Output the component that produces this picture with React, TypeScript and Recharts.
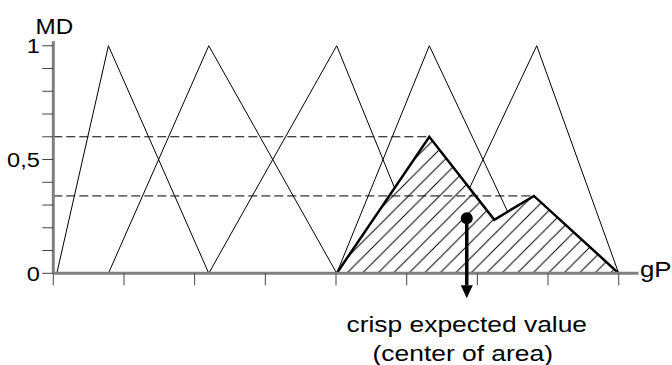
import { ComposedChart, Line, Area, XAxis, YAxis, ReferenceLine } from 'recharts';

// axis ticks
const xTicks = [0, 1, 2, 3, 4, 5, 6, 7, 8];
const yTicks = [0, 0.1, 0.2, 0.3, 0.4, 0.5, 0.6, 0.7, 0.8, 0.9, 1];
const yTickLabels: Record<string, string> = { '0': '0', '0.5': '0,5', '1': '1' };

// membership functions (triangles)
const tri1 = [{ x: 0.05, y: 0 }, { x: 0.78, y: 1 }, { x: 2.2, y: 0 }];
const tri2 = [{ x: 0.78, y: 0 }, { x: 2.2, y: 1 }, { x: 4.01, y: 0 }];
const tri3 = [{ x: 2.2, y: 0 }, { x: 4.01, y: 1 }, { x: 5.32, y: 0 }];
const tri4 = [{ x: 4.01, y: 0 }, { x: 5.32, y: 1 }, { x: 6.84, y: 0 }];
const tri5 = [{ x: 5.32, y: 0 }, { x: 6.84, y: 1 }, { x: 8.0, y: 0 }];
const triangles = [tri1, tri2, tri3, tri4, tri5];

// resulting fuzzy set
const outputSet = [
  { x: 4.01, y: 0 },
  { x: 5.32, y: 0.6 },
  { x: 6.24, y: 0.235 },
  { x: 6.8, y: 0.34 },
  { x: 8.0, y: 0 },
];

// activation levels and where their dashed lines stop
const cutLevels = [0.6, 0.34];
const cutEnds = [5.33, 6.79];

// centre of area
const centroidX = 5.85;
const centroidY = 0.242;
const arrowTipY = -0.11;

const FONT = '"Liberation Sans", Arial, sans-serif';
const AXIS_GREY = '#808080';

function YTick(props: any) {
  const { x, y, payload } = props;
  const label = yTickLabels[String(payload.value)];
  if (!label) return null;
  return (
    <g transform={`translate(${x},${y + 7.5}) scale(1.15,1)`}>
      <text textAnchor="end" fontSize={20.5} fontFamily={FONT} fill="#000" stroke="none">
        {label}
      </text>
    </g>
  );
}

function CentroidArrow(props: any) {
  const { x1, y1, x2, y2 } = props;
  const head = 13;
  return (
    <g>
      <line x1={x1} y1={y1} x2={x2} y2={y2 - head} stroke="#000" strokeWidth={3.5} />
      <polygon points={`${x2 - 6},${y2 - head} ${x2 + 6},${y2 - head} ${x2},${y2}`} fill="#000" />
      <circle cx={x1} cy={y1} r={6} fill="#000" />
      <g transform={`translate(${x2},${y2 + 34}) scale(1.2,1)`}>
        <text textAnchor="middle" fontSize={22} fontFamily={FONT} fill="#000">
          crisp expected value
        </text>
      </g>
      <g transform={`translate(${x2 - 4},${y2 + 63}) scale(1.2,1)`}>
        <text textAnchor="middle" fontSize={22} fontFamily={FONT} fill="#000">
          (center of area)
        </text>
      </g>
    </g>
  );
}

export default function App() {
  return (
    <div style={{ position: 'absolute', left: 0, top: 0, width: 672, height: 365, background: '#fff' }}>
      <ComposedChart width={672} height={365} margin={{ top: 41.2, right: 33.5, bottom: 61.7, left: 8.3 }}>
        <defs>
          <pattern id="hatch" patternUnits="userSpaceOnUse" width={15.5} height={15.5}>
            <rect width={15.5} height={15.5} fill="#fff" />
            <path d="M0,15.5 L15.5,0 M-3,3 L3,-3 M12.5,18.5 L18.5,12.5" stroke="#000" strokeWidth={1} />
          </pattern>
        </defs>
        <XAxis
          type="number"
          dataKey="x"
          domain={[0, 8.28]}
          ticks={xTicks}
          interval={0}
          height={30}
          tickSize={12}
          tickFormatter={() => ''}
          stroke={AXIS_GREY}
          strokeWidth={3}
          axisLine={{ stroke: AXIS_GREY, strokeWidth: 3 }}
          tickLine={{ stroke: '#444', strokeWidth: 1 }}
          zIndex={800}
        />
        <YAxis
          type="number"
          dataKey="y"
          domain={[0, 1.02]}
          ticks={yTicks}
          interval={0}
          width={45}
          tickSize={11}
          tickMargin={2.5}
          tick={(p: any) => <YTick {...p} />}
          stroke={AXIS_GREY}
          strokeWidth={3}
          axisLine={{ stroke: AXIS_GREY, strokeWidth: 3 }}
          tickLine={{ stroke: '#444', strokeWidth: 1 }}
          zIndex={800}
        />
        {triangles.map((t, i) => (
          <Line
            key={i}
            data={t}
            dataKey="y"
            type="linear"
            stroke="#000"
            strokeWidth={1}
            dot={false}
            activeDot={false}
            isAnimationActive={false}
          />
        ))}
        <Area
          data={outputSet}
          dataKey="y"
          type="linear"
          stroke="#000"
          strokeWidth={2.5}
          fill="url(#hatch)"
          fillOpacity={1}
          dot={false}
          activeDot={false}
          isAnimationActive={false}
          zIndex={450}
        />
        {cutLevels.map((lvl, i) => (
          <ReferenceLine
            key={i}
            segment={[{ x: 0, y: lvl }, { x: cutEnds[i], y: lvl }]}
            stroke="#000"
            strokeWidth={1}
            strokeDasharray="9 4"
            zIndex={700}
          />
        ))}
        <ReferenceLine
          segment={[{ x: centroidX, y: centroidY }, { x: centroidX, y: arrowTipY }]}
          ifOverflow="visible"
          shape={(p: any) => <CentroidArrow {...p} />}
          zIndex={900}
        />
      </ComposedChart>
      <svg width={672} height={365} style={{ position: 'absolute', left: 0, top: 0, pointerEvents: 'none' }}>
        <g transform="translate(35.5,33.5) scale(1.1,1)">
          <text fontSize={22} fontFamily={FONT} fill="#000">MD</text>
        </g>
        <g transform="translate(640,277) scale(1.2,1)">
          <text fontSize={21.5} fontFamily={FONT} fill="#000">gP</text>
        </g>
      </svg>
    </div>
  );
}
